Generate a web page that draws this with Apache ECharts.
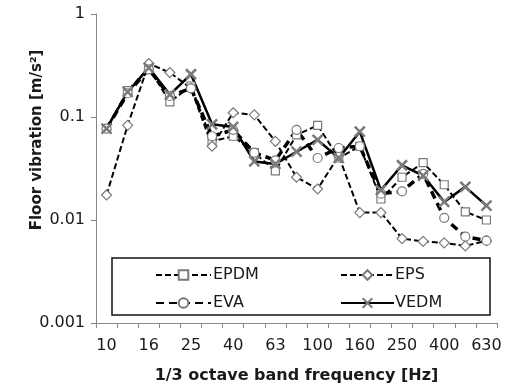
<!DOCTYPE html>
<html lang="en" style="height: 100%">
<head>
  <meta charset="utf-8">
</head>
<body style="height: 100%; margin: 0;">
  <div id="container" style="width: 508px; height: 385px;"></div>

  <script type="text/javascript" src="https://cdn.jsdelivr.net/npm/echarts@6/dist/echarts.min.js"></script>

  <script type="text/javascript">
    var cats = ['10', '12.5', '16', '20', '25', '31.5', '40', '50', '63', '80', '100', '125', '160', '200', '250', '315', '400', '500', '630'];
    var epdm = [0.077, 0.18, 0.30, 0.14, 0.20, 0.058, 0.065, 0.045, 0.030, 0.067, 0.083, 0.040, 0.052, 0.016, 0.026, 0.036, 0.022, 0.012, 0.010];
    var eps  = [0.0175, 0.083, 0.33, 0.27, 0.19, 0.052, 0.11, 0.105, 0.058, 0.026, 0.020, 0.042, 0.0118, 0.0118, 0.0066, 0.0062, 0.0060, 0.0056, 0.0063];
    var eva  = [0.077, 0.17, 0.29, 0.16, 0.19, 0.065, 0.075, 0.045, 0.038, 0.075, 0.040, 0.050, 0.052, 0.018, 0.019, 0.028, 0.0105, 0.0069, 0.0063];
    var vedm = [0.077, 0.175, 0.30, 0.165, 0.26, 0.085, 0.080, 0.037, 0.035, 0.046, 0.060, 0.040, 0.072, 0.0195, 0.034, 0.027, 0.015, 0.021, 0.0138];
    var yTicks = ['0.001', '0.01', '0.1', '1'];

    var font = 'DejaVu Sans, sans-serif';
    var txt = '#1a1a1a';
    var axisGray = '#878787';
    var markGray = '#7a7a7a';

    var dom = document.getElementById('container');
    var myChart = echarts.init(dom, null, { renderer: 'canvas' });

    var option = {
      animation: false,
      grid: { left: 96, right: 11, top: 14, bottom: 62, outerBoundsMode: 'none' },
      legend: [
        {
          orient: 'vertical',
          left: 150, top: 262,
          itemWidth: 55, itemHeight: 12, itemGap: 12,
          textStyle: { fontFamily: font, fontSize: 16, color: txt, padding: [0, 0, 0, -3] },
          data: ['EPDM', 'EVA']
        },
        {
          orient: 'vertical',
          left: 335, top: 262,
          itemWidth: 53, itemHeight: 12, itemGap: 12,
          textStyle: { fontFamily: font, fontSize: 16, color: txt, padding: [0, 0, 0, -4] },
          data: ['EPS', 'VEDM']
        }
      ],
      graphic: [
        {
          type: 'rect',
          shape: { x: 112, y: 258, width: 378, height: 57 },
          style: { fill: 'none', stroke: '#111', lineWidth: 1.5 },
          z: 1
        },
        {
          type: 'text',
          x: 37, y: 140,
          rotation: Math.PI / 2,
          style: {
            text: 'Floor vibration [m/s²]',
            fontFamily: font, fontSize: 15, fontWeight: 'bold', fill: txt,
            textAlign: 'center', textVerticalAlign: 'middle'
          }
        }
      ],
      xAxis: {
        type: 'category',
        data: cats,
        boundaryGap: true,
        name: '1/3 octave band frequency [Hz]',
        nameLocation: 'middle',
        nameGap: 45,
        nameTextStyle: { fontFamily: font, fontSize: 16, fontWeight: 'bold', color: txt },
        axisLine: { lineStyle: { color: axisGray, width: 1 } },
        axisTick: { show: true, interval: 0, length: 5, lineStyle: { color: axisGray } },
        axisLabel: { interval: 1, margin: 15, fontFamily: font, fontSize: 16, color: txt }
      },
      yAxis: {
        type: 'log',
        logBase: 10,
        min: 0.001,
        max: 1,
        axisLine: { show: true, lineStyle: { color: axisGray, width: 1 } },
        axisTick: { show: true, length: 5, lineStyle: { color: axisGray } },
        splitLine: { show: false },
        axisLabel: {
          margin: 11, fontFamily: font, fontSize: 16, color: txt,
          formatter: function (v) { return yTicks[Math.round(Math.log10(v)) + 3]; }
        }
      },
      series: [
        {
          name: 'EPDM', type: 'line', data: epdm,
          symbol: 'rect', symbolSize: 8,
          lineStyle: { color: '#000', width: 2, type: [6, 3] },
          itemStyle: { color: '#fff', borderColor: markGray, borderWidth: 1.2 }
        },
        {
          name: 'EPS', type: 'line', data: eps,
          symbol: 'diamond', symbolSize: 10,
          lineStyle: { color: '#000', width: 2, type: [6, 3] },
          itemStyle: { color: '#fff', borderColor: markGray, borderWidth: 1.2 }
        },
        {
          name: 'EVA', type: 'line', data: eva,
          symbol: 'circle', symbolSize: 9,
          lineStyle: { color: '#000', width: 3.5, type: [8, 5] },
          itemStyle: { color: '#fff', borderColor: markGray, borderWidth: 1.2 }
        },
        {
          name: 'VEDM', type: 'line', data: vedm,
          symbol: 'path://M0,0L10,10M10,0L0,10', symbolSize: 10,
          lineStyle: { color: '#000', width: 2.5, type: 'solid' },
          itemStyle: { color: 'rgba(0,0,0,0)', borderColor: markGray, borderWidth: 2.5 }
        }
      ]
    };

    myChart.setOption(option);
    window.addEventListener('resize', myChart.resize);
  </script>
</body>
</html>
